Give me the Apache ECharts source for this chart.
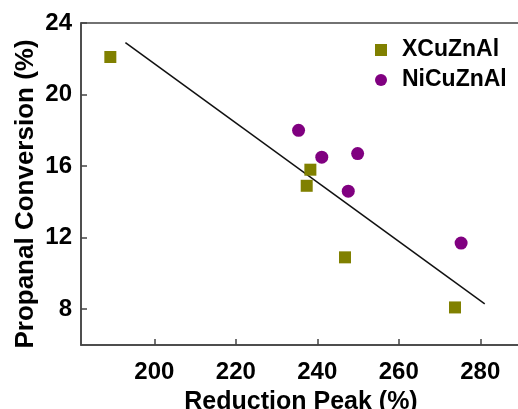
<!DOCTYPE html>
<html>
<head>
<meta charset="utf-8">
<script src="https://cdn.jsdelivr.net/npm/echarts@6/dist/echarts.min.js"></script>
<style>
  html, body { margin: 0; padding: 0; background: #fff; }
  #chart { width: 518px; height: 409px; }
</style>
</head>
<body>
<div id="chart"></div>
<script>
// 数据
const xTicks = [200, 220, 240, 260, 280];
const yTicks = [8, 12, 16, 20, 24];

const xcuX = [189.2, 238.3, 237.4, 246.8, 273.8];
const xcuY = [22.1, 15.8, 14.9, 10.9, 8.1];

const niX = [235.4, 241.1, 249.9, 247.6, 275.3];
const niY = [18.0, 16.5, 16.7, 14.6, 11.7];

// 拟合直线两端
const fitX = [192.9, 281.1];
const fitY = [22.9, 8.3];

const pairs = (xs, ys) => xs.map((x, i) => [x, ys[i]]);

const font = "'Liberation Sans', Arial, sans-serif";
const axisColor = "#444";

var chart = echarts.init(document.getElementById("chart"));
chart.setOption({
    animation: false,
    grid: {
        left: 81, top: 23, right: -3, bottom: 64,
        outerBoundsMode: "none",
        containLabel: false,
        show: true, borderColor: axisColor, borderWidth: 1.5
    },
    legend: {
        orient: "vertical",
        left: 370, top: 33,
        itemWidth: 12, itemHeight: 12,
        itemGap: 6,
        textStyle: { fontFamily: font, fontWeight: "bold", fontSize: 23, color: "#000", lineHeight: 24, padding: [0, 0, 0, 10] },
        data: [
            { name: "XCuZnAl", icon: "rect" },
            { name: "NiCuZnAl", icon: "circle" }
        ]
    },
    xAxis: {
        type: "value",
        min: 182, max: 290,
        name: "Reduction Peak (%)",
        nameLocation: "middle",
        nameGap: 45,
        nameMoveOverlap: false,
        nameTextStyle: { fontFamily: font, fontWeight: "bold", fontSize: 25, color: "#000" },
        splitLine: { show: false },
        axisLine: { lineStyle: { color: axisColor, width: 1.5 } },
        axisTick: { inside: true, length: 6, customValues: xTicks, lineStyle: { color: axisColor, width: 1.5 } },
        axisLabel: { customValues: xTicks, margin: 15, fontFamily: font, fontWeight: "bold", fontSize: 24, color: "#000" }
    },
    yAxis: {
        type: "value",
        min: 6, max: 24,
        name: "Propanal Conversion (%)",
        nameLocation: "middle",
        nameRotate: 90,
        nameGap: 42,
        nameMoveOverlap: false,
        nameTextStyle: { fontFamily: font, fontWeight: "bold", fontSize: 26, color: "#000", padding: [0, 20, 0, 0] },
        splitLine: { show: false },
        axisLine: { lineStyle: { color: axisColor, width: 1.5 } },
        axisTick: { inside: true, length: 6, customValues: yTicks, lineStyle: { color: axisColor, width: 1.5 } },
        axisLabel: { customValues: yTicks, margin: 9, fontFamily: font, fontWeight: "bold", fontSize: 24, color: "#000" }
    },
    series: [
        {
            type: "line",
            data: pairs(fitX, fitY),
            symbol: "none",
            lineStyle: { color: "#111", width: 1.5 },
            silent: true,
            z: 1
        },
        {
            name: "XCuZnAl",
            type: "scatter",
            symbol: "rect",
            symbolSize: 12,
            itemStyle: { color: "#808000", opacity: 1 },
            data: pairs(xcuX, xcuY),
            z: 3
        },
        {
            name: "NiCuZnAl",
            type: "scatter",
            symbol: "circle",
            symbolSize: 13,
            itemStyle: { color: "#800080", opacity: 1 },
            data: pairs(niX, niY),
            z: 3
        }
    ]
});
</script>
</body>
</html>
